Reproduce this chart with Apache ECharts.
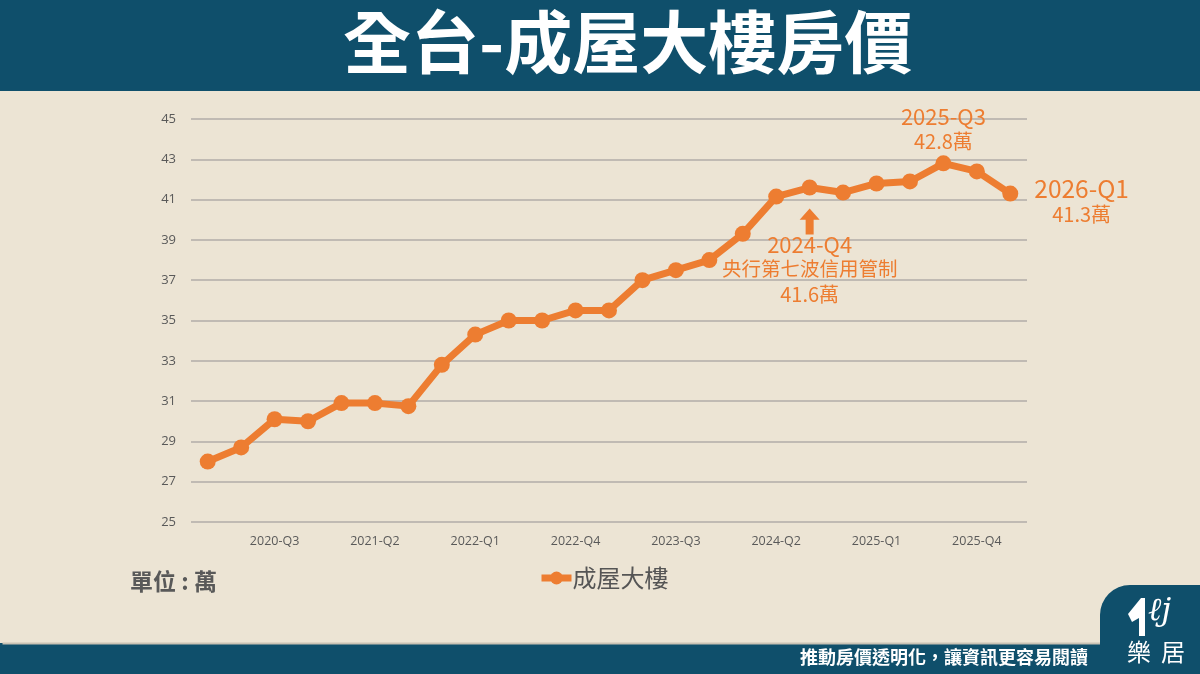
<!DOCTYPE html>
<html><head><meta charset="utf-8">
<script src="https://cdn.jsdelivr.net/npm/echarts@6/dist/echarts.min.js"></script>
<style>html,body{margin:0;padding:0;background:#ece4d4;}#c{width:1200px;height:674px;}</style>
</head><body><div id="c"></div>
<script>
const categories = ['2020-Q1','2020-Q2','2020-Q3','2020-Q4','2021-Q1','2021-Q2','2021-Q3','2021-Q4','2022-Q1','2022-Q2','2022-Q3','2022-Q4','2023-Q1','2023-Q2','2023-Q3','2023-Q4','2024-Q1','2024-Q2','2024-Q3','2024-Q4','2025-Q1','2025-Q2','2025-Q3','2025-Q4','2026-Q1'];
const values = [28.0,28.7,30.1,30.0,30.9,30.9,30.75,32.8,34.3,35.0,35.0,35.5,35.5,37.0,37.5,38.0,39.3,41.15,41.6,41.35,41.8,41.9,42.8,42.4,41.3];
const seriesName = '成屋大樓';
const yTicks = {min:25, max:45, interval:2};
const annotations = [
  {index:18, lines:['2024-Q4','央行第七波信用管制','41.6萬']},
  {index:22, lines:['2025-Q3','42.8萬']},
  {index:24, lines:['2026-Q1','41.3萬']}
];
const ORANGE = '#ed7d31';
const FONT = '"Noto Sans CJK TC","Noto Sans",sans-serif';

const data = values.map((v,i)=>{
  const a = annotations.find(x=>x.index===i);
  if(!a) return v;
  let label;
  if(i===18){
    label = {show:true, position:'bottom', distance:37,
      formatter:'{a|'+a.lines[0]+'}\n{b|'+a.lines[1]+'}\n{c|'+a.lines[2]+'}',
      rich:{a:{fontSize:22,color:ORANGE,lineHeight:24,align:'center',fontFamily:FONT},
            b:{fontSize:19.5,color:ORANGE,lineHeight:24,align:'center',fontFamily:FONT},
            c:{fontSize:20,color:ORANGE,lineHeight:27,align:'center',fontFamily:FONT}}};
  } else if(i===22){
    label = {show:true, position:'top', distance:1,
      formatter:'{a|'+a.lines[0]+'}\n{c|'+a.lines[1]+'}',
      rich:{a:{fontSize:22,color:ORANGE,lineHeight:25,align:'center',fontFamily:FONT},
            c:{fontSize:20,color:ORANGE,lineHeight:25,align:'center',fontFamily:FONT}}};
  } else {
    label = {show:true, position:'right', distance:16, offset:[0,7],
      formatter:'{a|'+a.lines[0]+'}\n{c|'+a.lines[1]+'}',
      rich:{a:{fontSize:24.5,color:ORANGE,lineHeight:27,align:'center',fontFamily:FONT},
            c:{fontSize:20,color:ORANGE,lineHeight:24,align:'center',fontFamily:FONT}}};
  }
  return {value:v, label};
});

const chart = echarts.init(document.getElementById('c'));
chart.setOption({
  backgroundColor:'#ece4d4',
  animation:false,
  textStyle:{fontFamily:FONT},
  grid:{left:191,right:173,top:119,bottom:152},
  xAxis:{type:'category',data:categories,boundaryGap:true,
    axisLine:{show:false},axisTick:{show:false},
    axisLabel:{interval:(i)=>i%3===2,color:'#595959',fontSize:12.5,margin:13,fontFamily:'"Open Sans","Noto Sans",sans-serif'}},
  yAxis:{type:'value',min:yTicks.min,max:yTicks.max,interval:yTicks.interval,
    axisLine:{show:false},axisTick:{show:false},
    axisLabel:{color:'#595959',fontSize:13,margin:15,fontFamily:'"Open Sans","Noto Sans",sans-serif'},
    splitLine:{lineStyle:{color:'#b2ada8',width:1.5}}},
  legend:{show:true,left:533,top:561,itemWidth:30,itemHeight:16,itemGap:4,
    textStyle:{color:'#555555',fontSize:24,fontFamily:FONT,padding:[0,0,0,-4]},
    itemStyle:{borderWidth:0},
    lineStyle:{width:7},
    data:[seriesName]},
  series:[{name:seriesName,type:'line',data:data,
    lineStyle:{color:ORANGE,width:7},
    itemStyle:{color:ORANGE},
    symbol:'circle',symbolSize:16,
    markPoint:{silent:true,data:[{coord:[18,values[18]],
      symbol:'path://M5,0 L10,6 L7,6 L7,14 L3,14 L3,6 L0,6 Z',
      symbolSize:[20,26],symbolOffset:[0,34],itemStyle:{color:ORANGE},label:{show:false}}]}
  }],
  graphic:[
    {type:'rect',left:0,top:0,z:-1,shape:{width:1200,height:91},style:{fill:'#0f4f6b'}},
    {type:'text',left:343,top:8,z:10,style:{text:'全台-成屋大樓房價',fill:'#ffffff',font:'bold 68px '+FONT,
      shadowColor:'rgba(0,0,0,0.55)',shadowBlur:3,shadowOffsetX:2,shadowOffsetY:2}},
    {type:'rect',left:0,top:643,z:-1,shape:{width:1200,height:31},style:{fill:'#0f4f6b'}},
    {type:'line',left:0,top:641,z:-1,shape:{x1:0,y1:0,x2:1200,y2:0},style:{stroke:'#c9c2b4',lineWidth:2}},
    {type:'rect',left:1100,top:585,z:-1,shape:{width:110,height:100,r:[30,0,0,0]},style:{fill:'#0f4f6b'}},
    {type:'text',right:112,top:648,style:{text:'推動房價透明化，讓資訊更容易閱讀',fill:'#ffffff',font:'bold 18px '+FONT}},
    {type:'text',left:1127,top:640,style:{text:'樂',fill:'#ffffff',font:'24px '+FONT}},
    {type:'text',left:1161,top:640,style:{text:'居',fill:'#ffffff',font:'24px '+FONT}},
    {type:'polygon',left:1128,top:598,shape:{points:[[0,16],[13,0],[17,0],[17,38],[11,38],[11,20],[4,24]]},style:{fill:'#ffffff'}},
    {type:'text',left:1148,top:596,style:{text:'ℓj',fill:'#ffffff',font:'italic 32px "DejaVu Serif",serif'}},
    {type:'text',left:130,top:570,style:{text:'單位 : 萬',fill:'#595959',font:'bold 23px '+FONT}}
  ]
});
</script></body></html>
